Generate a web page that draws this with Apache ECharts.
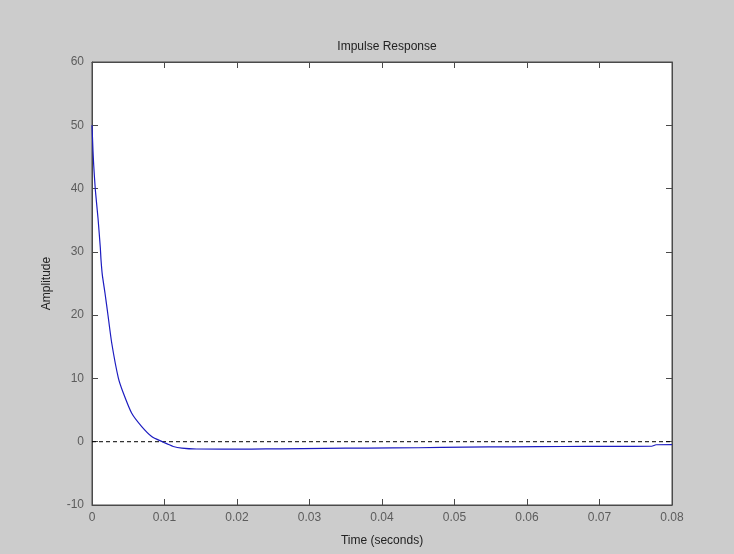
<!DOCTYPE html>
<html>
<head>
<meta charset="utf-8">
<script src="https://cdn.jsdelivr.net/npm/echarts@6/dist/echarts.min.js"></script>
<style>
  html, body { margin: 0; padding: 0; background: #cccccc; }
  #chart { width: 734px; height: 554px; }
</style>
</head>
<body>
<div id="chart"></div>
<script>
// Impulse response samples: time (s) and amplitude
const timeSec = [
  0, 0.00014, 0.00023, 0.00046, 0.00083, 0.00115, 0.00124, 0.00142, 0.00179,
  0.00217, 0.00272, 0.00363, 0.00432, 0.00548, 0.00686, 0.00823, 0.0097,
  0.0105, 0.0112, 0.0124, 0.0144, 0.018, 0.022, 0.026, 0.032, 0.038, 0.045,
  0.0514, 0.058, 0.065, 0.072, 0.0772, 0.0778, 0.08
];
const amplitude = [
  50, 45.9, 43.8, 39.8, 35.3, 30.6, 28.8, 26.4, 23.5,
  20.3, 15.6, 10.1, 7.7, 4.5, 2.4, 0.84, 0,
  -0.4, -0.75, -1.0, -1.15, -1.17, -1.16, -1.13, -1.05, -1.0, -0.95,
  -0.84, -0.8, -0.76, -0.73, -0.72, -0.48, -0.46
];
// Zero reference line
const zeroLineT = [0, 0.08];
const zeroLineY = [0, 0];

// Axis ticks
const xTickLabels = ['0', '0.01', '0.02', '0.03', '0.04', '0.05', '0.06', '0.07', '0.08'];
const yTickLabels = ['-10', '0', '10', '20', '30', '40', '50', '60'];

const titleText = 'Impulse Response';
const xAxisName = 'Time (seconds)';
const yAxisName = 'Amplitude';

const FONT = 'Liberation Sans, Arial, sans-serif';
const FRAME = '#4a4a4a';
const LABEL = '#5c5c5c';

const chart = echarts.init(document.getElementById('chart'), null, { renderer: 'canvas' });

const xLabelFmt = v => xTickLabels[Math.round(v / 0.01)] ?? '';
const yLabelFmt = v => yTickLabels[Math.round((v + 10) / 10)] ?? '';

// Ticks point into the plot box on all four sides
const tickStyle = () => ({ show: true, inside: true, length: 6, lineStyle: { color: FRAME, width: 1 } });
const frameLine = () => ({ show: true, onZero: false, lineStyle: { color: FRAME, width: 1 } });

chart.setOption({
  backgroundColor: '#cccccc',
  animation: false,
  title: {
    text: titleText,
    left: 382,
    textAlign: 'center',
    top: 36,
    textStyle: { fontFamily: FONT, fontSize: 12, fontWeight: 'normal', color: '#222222' }
  },
  grid: {
    left: 92, top: 62, right: 62, bottom: 49,
    show: true, backgroundColor: '#ffffff', borderColor: FRAME, borderWidth: 1
  },
  xAxis: [
    {
      type: 'value', min: 0, max: 0.08, interval: 0.01, position: 'bottom',
      name: xAxisName, nameLocation: 'middle', nameGap: 30,
      nameTextStyle: { fontFamily: FONT, fontSize: 12, color: '#222222' },
      axisLine: frameLine(),
      axisTick: tickStyle(),
      axisLabel: { formatter: xLabelFmt, fontFamily: FONT, fontSize: 12, color: LABEL, margin: 7 },
      splitLine: { show: false }
    },
    {
      type: 'value', min: 0, max: 0.08, interval: 0.01, position: 'top',
      axisLine: frameLine(),
      axisTick: tickStyle(),
      axisLabel: { show: false },
      splitLine: { show: false }
    }
  ],
  yAxis: [
    {
      type: 'value', min: -10, max: 60, interval: 10, position: 'left',
      name: yAxisName, nameLocation: 'middle', nameGap: 39, nameRotate: 90,
      nameTextStyle: { fontFamily: FONT, fontSize: 12, color: '#222222' },
      axisLine: frameLine(),
      axisTick: tickStyle(),
      axisLabel: { formatter: yLabelFmt, fontFamily: FONT, fontSize: 12, color: LABEL, margin: 8 },
      splitLine: { show: false }
    },
    {
      type: 'value', min: -10, max: 60, interval: 10, position: 'right',
      axisLine: frameLine(),
      axisTick: tickStyle(),
      axisLabel: { show: false },
      splitLine: { show: false }
    }
  ],
  series: [
    {
      type: 'line',
      data: zeroLineT.map((t, i) => [t, zeroLineY[i]]),
      symbol: 'none',
      silent: true,
      lineStyle: { color: '#000000', width: 1, type: [4, 3] },
      z: 2
    },
    {
      type: 'line',
      data: timeSec.map((t, i) => [t, amplitude[i]]),
      symbol: 'none',
      smooth: 0.2,
      lineStyle: { color: '#1c1cc0', width: 1.2 },
      z: 3
    }
  ]
});
</script>
</body>
</html>
